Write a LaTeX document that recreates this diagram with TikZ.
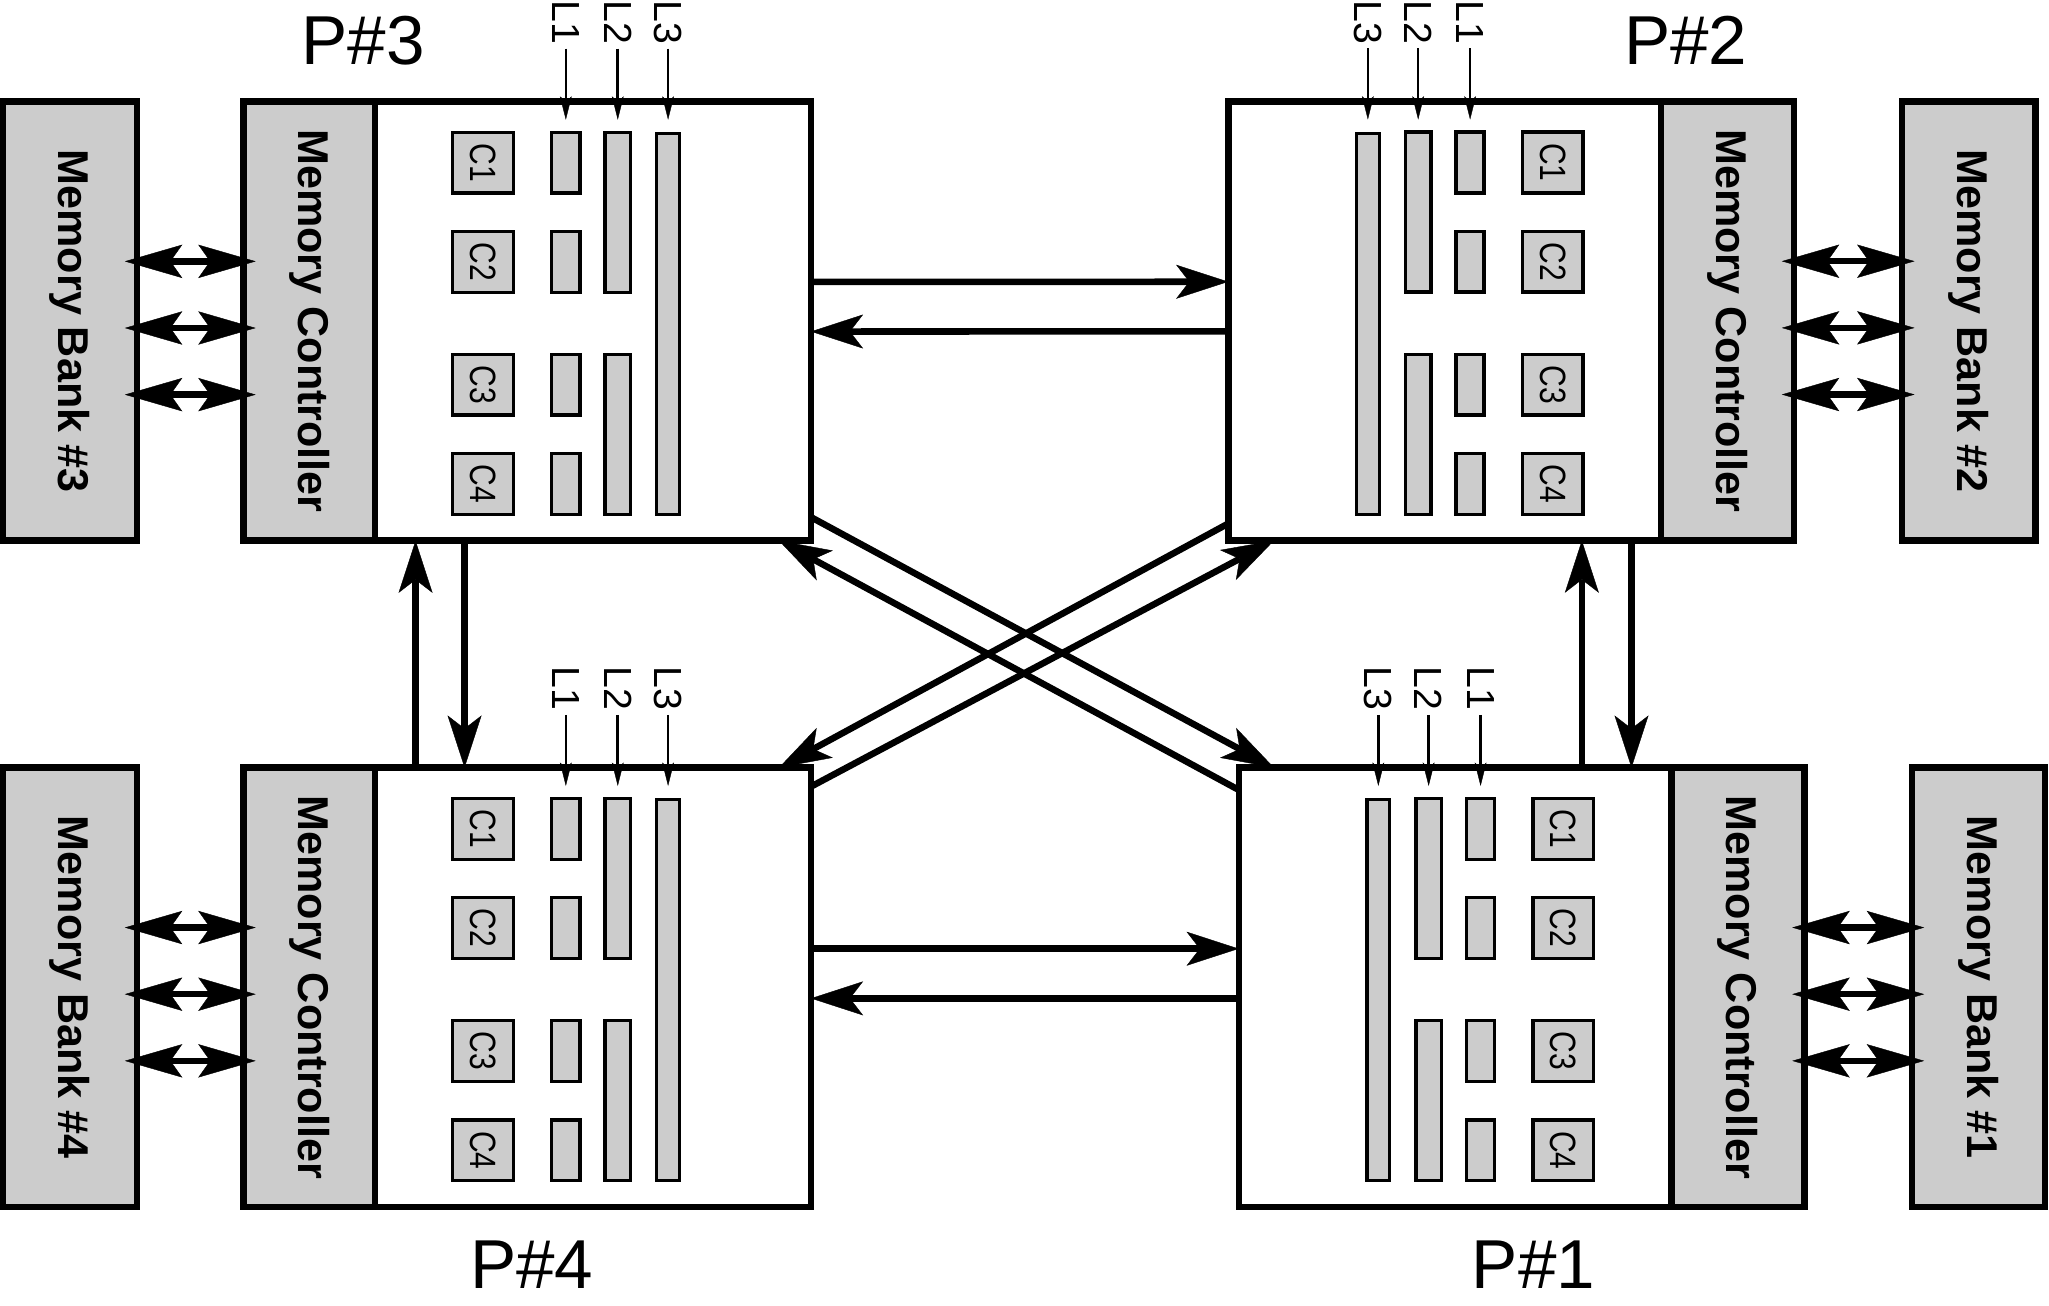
\documentclass[tikz,border=0pt]{standalone}
\usepackage{fontspec}
\setmainfont{Liberation Sans}
\newfontfamily\condfont[FakeStretch=0.82]{Liberation Sans}
\usetikzlibrary{arrows.meta}
\definecolor{boxgray}{RGB}{204,204,204}
\tikzset{
  box/.style={draw, line width=5pt, inner sep=0pt, outer sep=0pt, anchor=north west, minimum height=336pt},
  pbox/.style={box, fill=white},
  gbox/.style={box, fill=boxgray, font=\bfseries\fontsize{33}{36}\selectfont},
  core/.style={draw, line width=2.6pt, fill=boxgray, minimum width=46.5pt, minimum height=46.5pt,
    inner sep=0pt, outer sep=0pt, font=\condfont\fontsize{28}{30}\selectfont},
  cache/.style={draw, line width=2.6pt, fill=boxgray, inner sep=0pt, outer sep=0pt},
  llabel/.style={inner sep=0pt, outer sep=0pt, font=\fontsize{30}{32}\selectfont},
  plabel/.style={inner sep=0pt, outer sep=0pt, font=\fontsize{53}{58}\selectfont},
  larrow/.style={line width=2pt, -{Stealth[length=18pt,width=9pt,inset=4pt,line width=0.3pt]}},
  conn/.style={line width=5pt, -{Stealth[length=40pt,width=26pt,inset=10pt,line width=0.3pt]}},
  dbl/.style={line width=5pt, {Stealth[length=44pt,width=25.5pt,inset=9pt,line width=0.3pt]}-{Stealth[length=44pt,width=25.5pt,inset=9pt,line width=0.3pt]},
    shorten <=-9.5pt, shorten >=-9.5pt}
}
% #1 prefix, #2 x of proc/controller boundary, #3 top y (downwards), #4 direction (+1 / -1)
\newcommand\procinner[4]{%
  \foreach \k/\rc in {1/46.75,2/122.75,3/216.75,4/292.75}{%
    \node[core] (#1c\k) at ({#2+(#4)*82.75},{-(#3+\rc)}) {\rotatebox{-90}{C\k}};
    \node[cache, minimum width=21.5pt, minimum height=46.5pt] (#1a\k) at ({#2+(#4)*146},{-(#3+\rc)}) {};
  }
  \node[cache, minimum width=19.5pt, minimum height=122.5pt] (#1b1) at ({#2+(#4)*185.75},{-(#3+84.75)}) {};
  \node[cache, minimum width=19.5pt, minimum height=122.5pt] (#1b2) at ({#2+(#4)*185.75},{-(#3+254.75)}) {};
  \node[cache, minimum width=17.5pt, minimum height=291.5pt] (#1d) at ({#2+(#4)*224.25},{-(#3+170.25)}) {};
  \node[llabel, anchor=north] (#1t1) at ({#2+(#4)*146},{-(#3-77.2)}) {\rotatebox{-90}{L1}};
  \node[llabel, anchor=north] (#1t2) at ({#2+(#4)*185.75},{-(#3-77.2)}) {\rotatebox{-90}{L2}};
  \node[llabel, anchor=north] (#1t3) at ({#2+(#4)*224.25},{-(#3-77.2)}) {\rotatebox{-90}{L3}};
  \draw[larrow, shorten <=3.3pt, shorten >=9.5pt] (#1t1.south) -- (#1a1.north);
  \draw[larrow, shorten <=3.3pt, shorten >=9.5pt] (#1t2.south) -- (#1b1.north);
  \draw[larrow, shorten <=3.3pt, shorten >=10.5pt] (#1t3.south) -- (#1d.north);
}
\begin{document}
\begin{tikzpicture}[x=1pt,y=1pt]
\useasboundingbox (0,0) rectangle (1568,-999);

% ---------- P#3 (top left)
\node[gbox, minimum width=102.7pt] (mb3) at (2.3,-77.7) {\rotatebox{-90}{Memory Bank \#3}};
\node[gbox, minimum width=100.8pt] (mc3) at (186.2,-77.7) {\rotatebox{-90}{Memory Controller}};
\node[pbox, minimum width=333.5pt] (p3) at (287,-77.7) {};
\procinner{q3}{287}{77.7}{1}
\node[plabel] (lp3) at (278,-30.8) {P\#3};

% ---------- P#4 (bottom left)
\node[gbox, minimum width=102.7pt] (mb4) at (2.3,-587.5) {\rotatebox{-90}{Memory Bank \#4}};
\node[gbox, minimum width=100.8pt] (mc4) at (186.2,-587.5) {\rotatebox{-90}{Memory Controller}};
\node[pbox, minimum width=333.5pt] (p4) at (287,-587.5) {};
\procinner{q4}{287}{587.5}{1}
\node[plabel] (lp4) at (407,-968) {P\#4};

% ---------- P#2 (top right)
\node[pbox, minimum width=331pt] (p2) at (940,-77.6) {};
\node[gbox, minimum width=102pt] (mc2) at (1271,-77.6) {\rotatebox{-90}{Memory Controller}};
\node[gbox, minimum width=102pt] (mb2) at (1455.6,-77.6) {\rotatebox{-90}{Memory Bank \#2}};
\procinner{q2}{1271}{77.6}{-1}
\node[plabel] (lp2) at (1290,-30.8) {P\#2};

% ---------- P#1 (bottom right)
\node[pbox, minimum width=331pt] (p1) at (948,-587.5) {};
\node[gbox, minimum width=102pt] (mc1) at (1279,-587.5) {\rotatebox{-90}{Memory Controller}};
\node[gbox, minimum width=102pt] (mb1) at (1463,-587.5) {\rotatebox{-90}{Memory Bank \#1}};
\procinner{q1}{1279}{587.5}{-1}
\node[plabel] (lp1) at (1173.5,-968) {P\#1};

% ---------- memory bank <-> controller
\foreach \dy in {122.3,173.3,224.3}{
  \draw[dbl] ([yshift=-\dy pt]mb3.north east) -- ([yshift=-\dy pt]mc3.north west);
  \draw[dbl] ([yshift=-\dy pt]mb4.north east) -- ([yshift=-\dy pt]mc4.north west);
  \draw[dbl] ([yshift=-\dy pt]mc2.north east) -- ([yshift=-\dy pt]mb2.north west);
  \draw[dbl] ([yshift=-\dy pt]mc1.north east) -- ([yshift=-\dy pt]mb1.north west);
}

% ---------- horizontal links
\draw[conn] ([yshift=-138pt]p3.north east) -- ([yshift=-138pt]p2.north west);
\draw[conn] ([yshift=-176pt]p2.north west) -- ([yshift=-176pt]p3.north east);
\draw[conn] ([yshift=-138.5pt]p4.north east) -- ([yshift=-138.5pt]p1.north west);
\draw[conn] ([yshift=-176.5pt]p1.north west) -- ([yshift=-176.5pt]p4.north east);

% ---------- vertical links
\coordinate (vx1) at (318,0);
\coordinate (vx2) at (355.5,0);
\coordinate (vx3) at (1210.5,0);
\coordinate (vx4) at (1248.5,0);
\draw[conn] (p4.north -| vx1) -- (p3.south -| vx1);
\draw[conn] (p3.south -| vx2) -- (p4.north -| vx2);
\draw[conn] (p1.north -| vx3) -- (p2.south -| vx3);
\draw[conn] (p2.south -| vx4) -- (p1.north -| vx4);

% ---------- diagonal links
\draw[conn] ([yshift=-318pt]p3.north east) -- ([xshift=27pt]p1.north west);
\draw[conn] ([yshift=-17pt]p1.north west) -- ([xshift=-24.5pt]p3.south east);
\draw[conn] ([yshift=-323pt]p2.north west) -- ([xshift=-24.5pt]p4.north east);
\draw[conn] ([yshift=-14.5pt]p4.north east) -- ([xshift=35pt]p2.south west);
\end{tikzpicture}
\end{document}
